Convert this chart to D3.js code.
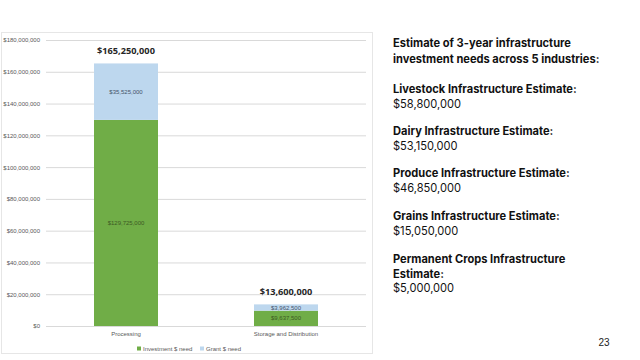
<!DOCTYPE html>
<html><head><meta charset="utf-8">
<script src="https://cdn.jsdelivr.net/npm/d3@7"></script>
<style>body{margin:0;background:#fff}svg{display:block}</style>
</head><body>
<svg id="c" width="640" height="360"></svg>
<script>
const categories = ["Processing", "Storage and Distribution"];
const investment = [129725000, 9637500];
const grant = [35525000, 3962500];
const totals = [165250000, 13600000];
const seriesNames = ["Investment $ need", "Grant $ need"];
const yTicks = [0, 20000000, 40000000, 60000000, 80000000, 100000000, 120000000, 140000000, 160000000, 180000000];
const sideTitle = ["Estimate of 3-year infrastructure", "investment needs across 5 industries:"];
const sideItems = [
  {label: ["Livestock Infrastructure Estimate:"], value: "$58,800,000"},
  {label: ["Dairy Infrastructure Estimate:"], value: "$53,150,000"},
  {label: ["Produce Infrastructure Estimate:"], value: "$46,850,000"},
  {label: ["Grains Infrastructure Estimate:"], value: "$15,050,000"},
  {label: ["Permanent Crops Infrastructure", "Estimate:"], value: "$5,000,000"}
];
const pageNum = "23";

const svg = d3.select("#c");
const colors = ["#70ad47", "#bdd7ee"];
const fmt = d3.format("$,");

// chart frame
svg.append("rect").attr("x", 1.5).attr("y", 32.5).attr("width", 371).attr("height", 321)
  .attr("fill", "none").attr("stroke", "#e6e6e6").attr("stroke-width", 1);

const x = d3.scaleBand().domain(categories).range([46, 366]).paddingInner(0.6).paddingOuter(0.3);
const y = d3.scaleLinear().domain([0, 180000000]).range([326, 40]);

const yAxis = svg.append("g").attr("transform", "translate(46,0)")
  .call(d3.axisLeft(y).tickValues(yTicks).tickFormat(fmt).tickSize(-320).tickPadding(6));
yAxis.select(".domain").remove();
yAxis.selectAll(".tick line").attr("stroke", "#d9d9d9");
yAxis.selectAll(".tick text").attr("fill", "#595959").style("font", "6px 'Liberation Sans', Arial, sans-serif");

const stackData = categories.map((c, i) => ({cat: c, inv: investment[i], grant: grant[i]}));
const stack = d3.stack().keys(["inv", "grant"])(stackData);

stack.forEach((layer, li) => {
  svg.append("g").selectAll("rect").data(layer).join("rect")
    .attr("x", d => x(d.data.cat))
    .attr("width", x.bandwidth())
    .attr("y", d => y(d[1]))
    .attr("height", d => y(d[0]) - y(d[1]))
    .attr("fill", colors[li]);
  svg.append("g").selectAll("text").data(layer).join("text")
    .attr("x", d => x(d.data.cat) + x.bandwidth() / 2)
    .attr("y", d => (y(d[0]) + y(d[1])) / 2)
    .attr("dy", "0.35em")
    .attr("text-anchor", "middle")
    .attr("fill", li === 0 ? "#3d5a24" : "#44546a")
    .style("font", "6px 'Liberation Sans', Arial, sans-serif")
    .text(d => fmt(d[1] - d[0]));
});

// totals
svg.append("g").selectAll("text").data(categories).join("text")
  .attr("x", c => x(c) + x.bandwidth() / 2)
  .attr("y", (c, i) => y(totals[i]) - 9)
  .attr("text-anchor", "middle")
  .attr("fill", "#262626")
  .style("font", "bold 9.2px 'Open Sans', 'Liberation Sans', sans-serif")
  .text((c, i) => fmt(totals[i]));

// x labels
const xAxis = svg.append("g").attr("transform", "translate(0,326)")
  .call(d3.axisBottom(x).tickSize(0).tickPadding(6));
xAxis.select(".domain").attr("stroke", "#d9d9d9").attr("d", "M46,0.5H366");
xAxis.selectAll(".tick text").attr("fill", "#595959").style("font", "6px 'Liberation Sans', Arial, sans-serif");

// legend
const legX = [137, 200];
seriesNames.forEach((n, i) => {
  svg.append("rect").attr("x", legX[i]).attr("y", 346.5).attr("width", 4).attr("height", 4).attr("fill", colors[i]);
  svg.append("text").attr("x", legX[i] + 6).attr("y", 348.5).attr("dy", "0.35em")
    .attr("fill", "#595959").style("font", "6px 'Liberation Sans', Arial, sans-serif").text(n);
});

// side text
const tx = 393;
const fs = "11.1px";
const side = svg.append("g").style("font-family", "Inter, 'Liberation Sans', sans-serif").attr("fill", "#111");
sideTitle.forEach((t, i) => {
  side.append("text").attr("x", tx).attr("y", 47 + i * 16).style("font-weight", "bold").style("font-size", fs).text(t);
});
const starts = [93, 135, 177, 220, 263];
sideItems.forEach((it, k) => {
  let yy = starts[k];
  it.label.forEach(l => {
    side.append("text").attr("x", tx).attr("y", yy).style("font-weight", "bold").style("font-size", fs).text(l);
    yy += 14.5;
  });
  side.append("text").attr("x", tx).attr("y", yy).style("font-size", fs).text(it.value);
});

svg.append("text").attr("x", 604).attr("y", 346).attr("text-anchor", "middle")
  .attr("fill", "#222").style("font", "10px 'Liberation Sans', sans-serif").text(pageNum);
</script>
</body></html>
